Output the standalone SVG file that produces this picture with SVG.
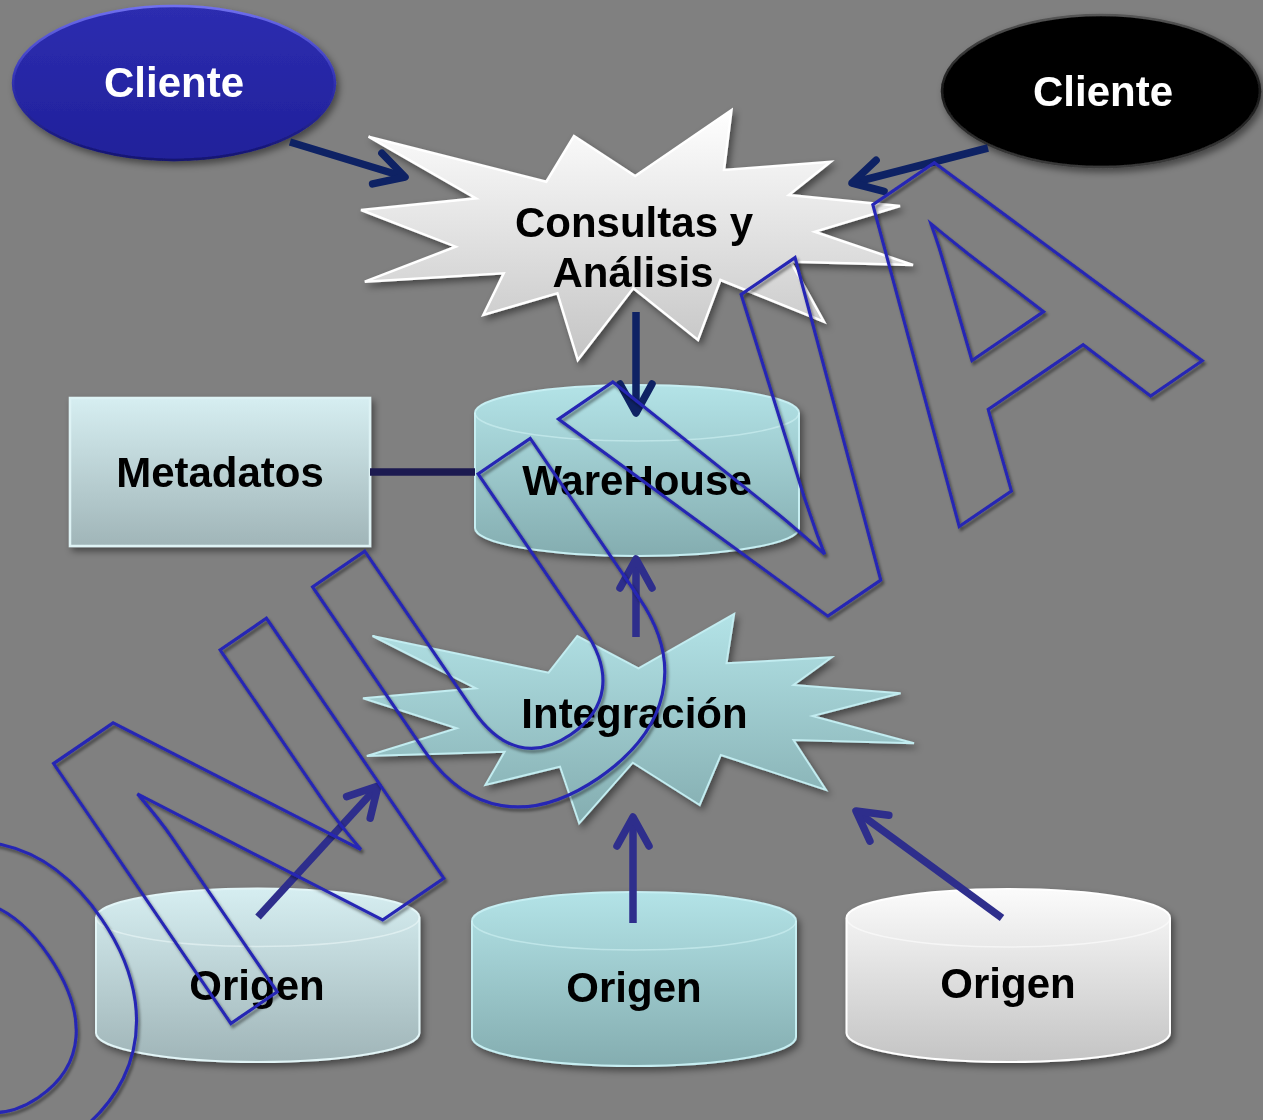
<svg xmlns="http://www.w3.org/2000/svg" width="1263" height="1120" viewBox="0 0 1263 1120">
<style>
.lbl{font-family:"Liberation Sans",Arial,sans-serif;font-weight:bold;font-size:42px;text-anchor:middle;fill:#000}
.wht{fill:#fff}
.conn{fill:none;stroke-width:7.5;stroke-linecap:butt}
.navy{stroke:#0e2264}
.purp{stroke:#2e2e8c}
.edge{fill:none;stroke-width:1.5;opacity:.55}
</style>
<defs>
<filter id="sh" x="-10%" y="-10%" width="125%" height="130%">
<feDropShadow dx="3" dy="4" stdDeviation="3.5" flood-color="#000" flood-opacity="0.45"/>
</filter>
<filter id="wsh" x="-5%" y="-5%" width="115%" height="115%">
<feDropShadow dx="2" dy="3" stdDeviation="1.5" flood-color="#000" flood-opacity="0.45"/>
</filter>
<linearGradient id="gBlue" x1="0" y1="0" x2="0" y2="1">
<stop offset="0" stop-color="#2d2db0"/><stop offset="1" stop-color="#20209a"/>
</linearGradient>
<linearGradient id="gBlueRim" x1="0" y1="0" x2="0" y2="1">
<stop offset="0" stop-color="#7070f0"/><stop offset="0.5" stop-color="#3030b0"/><stop offset="1" stop-color="#141470"/>
</linearGradient>
<linearGradient id="gBlackRim" x1="0" y1="0" x2="0" y2="1">
<stop offset="0" stop-color="#555"/><stop offset="0.5" stop-color="#1a1a1a"/><stop offset="1" stop-color="#3a3a3a"/>
</linearGradient>
<linearGradient id="gWhite" x1="0" y1="0" x2="0" y2="1">
<stop offset="0" stop-color="#ffffff"/><stop offset="1" stop-color="#c4c4c4"/>
</linearGradient>
<linearGradient id="gCyan" x1="0" y1="0" x2="0" y2="1">
<stop offset="0" stop-color="#b3e3e7"/><stop offset="1" stop-color="#84adb0"/>
</linearGradient>
<linearGradient id="gPale" x1="0" y1="0" x2="0" y2="1">
<stop offset="0" stop-color="#d6eef1"/><stop offset="1" stop-color="#a0b5b8"/>
</linearGradient>
<linearGradient id="gGray" x1="0" y1="0" x2="0" y2="1">
<stop offset="0" stop-color="#fbfbfb"/><stop offset="1" stop-color="#c4c4c4"/>
</linearGradient>
<marker id="aNavy" viewBox="-40 -25 50 50" markerWidth="50" markerHeight="50" refX="0" refY="0" orient="auto" markerUnits="userSpaceOnUse" overflow="visible">
<path d="M-29,-16 L0,0 L-29,16" fill="none" stroke="#0e2264" stroke-width="7.5" stroke-linecap="round" stroke-linejoin="round"/>
</marker>
<marker id="aPurp" viewBox="-40 -25 50 50" markerWidth="50" markerHeight="50" refX="0" refY="0" orient="auto" markerUnits="userSpaceOnUse" overflow="visible">
<path d="M-29,-16 L0,0 L-29,16" fill="none" stroke="#2e2e8c" stroke-width="7.5" stroke-linecap="round" stroke-linejoin="round"/>
</marker>
</defs>

<rect width="1263" height="1120" fill="#808080"/>

<g id="cliente1" filter="url(#sh)">
<ellipse cx="174" cy="83" rx="161" ry="77" fill="url(#gBlue)" stroke="url(#gBlueRim)" stroke-width="2.5"/>
<text class="lbl wht" x="174" y="97">Cliente</text>
</g>

<g id="cliente2" filter="url(#sh)">
<ellipse cx="1101" cy="91" rx="159" ry="76" fill="#050505" stroke="url(#gBlackRim)" stroke-width="2.5"/>
<text class="lbl wht" x="1103" y="106">Cliente</text>
</g>

<g id="consultas" filter="url(#sh)">
<polygon points="368.5,136.7 546.3,181.7 574,136 635.2,176 731.5,110 724,170 830.7,161.7 788.9,195 900,206 814.8,231.7 913,265 790.7,261.7 824,321.7 720.4,280 698,340 633.3,288.3 577.8,360 557.4,293.3 483.3,315 503.7,273.3 364.8,281.7 455.6,246.7 361,210 476,198.3" fill="url(#gWhite)" stroke="#ffffff" stroke-width="2.5" stroke-linejoin="miter"/>
<text class="lbl" x="634" y="237">Consultas y</text>
<text class="lbl" x="633" y="287">Análisis</text>
</g>

<g id="metadatos" filter="url(#sh)">
<rect x="70" y="398" width="300" height="148" fill="url(#gPale)" stroke="#def3f5" stroke-width="2.5"/>
<text class="lbl" x="220" y="487">Metadatos</text>
</g>

<g id="warehouse" filter="url(#sh)">
<path d="M475,413 A162,28 0 0 1 799,413 L799,528 A162,28 0 0 1 475,528 Z" fill="url(#gCyan)" stroke="#c6eef2" stroke-width="2"/>
<path class="edge" d="M475,413 A162,28 0 0 0 799,413" stroke="#d4f4f6"/>
<text class="lbl" x="637" y="495">WareHouse</text>
</g>

<g id="integracion" filter="url(#sh)">
<polygon points="372.5,636 548.6,672.7 577.3,636 638.5,668.3 734.2,614 726.5,663.3 831.8,657.3 793.5,685 900.6,693.3 812.6,716 914,743.3 793.5,740 826,790 720.8,755 699.7,805 632.8,762.7 579.2,823.3 560,766.7 485.4,785 504.6,751.7 366.8,756 456.7,728.3 363,698.3 475.9,688.3" fill="url(#gCyan)" stroke="#c2ecf0" stroke-width="2"/>
<text class="lbl" x="634.5" y="728">Integración</text>
</g>

<g id="origen1" filter="url(#sh)">
<path d="M96,917.5 A161.7,29 0 0 1 419.4,917.5 L419.4,1033 A161.7,29 0 0 1 96,1033 Z" fill="url(#gPale)" stroke="#e2f5f7" stroke-width="2"/>
<path class="edge" d="M96,917.5 A161.7,29 0 0 0 419.4,917.5" stroke="#eef9fa"/>
<text class="lbl" x="257" y="1000">Origen</text>
</g>

<g id="origen2" filter="url(#sh)">
<path d="M472,921 A162,29 0 0 1 796,921 L796,1037 A162,29 0 0 1 472,1037 Z" fill="url(#gCyan)" stroke="#c6eef2" stroke-width="2"/>
<path class="edge" d="M472,921 A162,29 0 0 0 796,921" stroke="#d4f4f6"/>
<text class="lbl" x="634" y="1002">Origen</text>
</g>

<g id="origen3" filter="url(#sh)">
<path d="M846.5,918 A161.7,29 0 0 1 1170,918 L1170,1033 A161.7,29 0 0 1 846.5,1033 Z" fill="url(#gGray)" stroke="#ffffff" stroke-width="2"/>
<path class="edge" d="M846.5,918 A161.7,29 0 0 0 1170,918" stroke="#ffffff"/>
<text class="lbl" x="1008" y="998">Origen</text>
</g>

<g id="connectors">
<path class="conn navy" d="M290,142 L405,177" marker-end="url(#aNavy)"/>
<path class="conn navy" d="M988,148 L852,183" marker-end="url(#aNavy)"/>
<path class="conn navy" d="M636,312 L636,413" marker-end="url(#aNavy)"/>
<path class="conn" d="M370,472 L475,472" stroke="#1c1a50" stroke-width="8"/>
<path class="conn purp" d="M636,637 L636,559" marker-end="url(#aPurp)"/>
<path class="conn purp" d="M258,917 L378,786" marker-end="url(#aPurp)"/>
<path class="conn purp" d="M633,923 L633,817" marker-end="url(#aPurp)"/>
<path class="conn purp" d="M1002,918 L856,811" marker-end="url(#aPurp)"/>
</g>

<g id="watermark" filter="url(#wsh)">
<text transform="matrix(3.622 -2.471 2.577 3.778 206.6 1040)" x="-77.8 0 72.2 145.4 205.3" y="0" font-family="Liberation Sans, Arial, sans-serif" font-weight="bold" font-size="100" fill="none" stroke="#2626b4" stroke-width="0.7" stroke-linejoin="miter">ONUVA</text>
</g>
</svg>
